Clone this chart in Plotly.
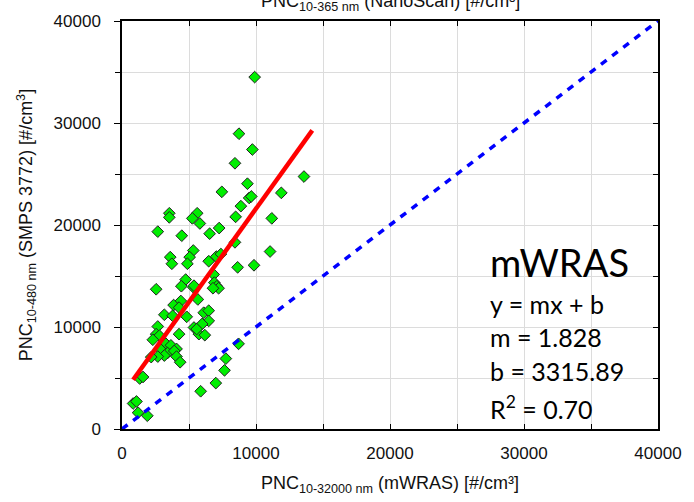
import plotly.graph_objects as go

# scatter data: PNC mWRAS (x) vs PNC SMPS (y)
mwras_x = [9900, 8730, 9730, 8430, 13580, 9360, 7450, 11890, 9490, 9650,
           8870, 8480, 11180, 8430, 11050, 8630, 9850, 3530, 3530, 5610,
           5250, 5810, 2670, 4460, 6540, 7250, 5320, 3600, 3720, 5050,
           4880, 6470, 7030, 7380, 6840, 4750, 4430, 5320, 2550, 6890,
           7080, 7210, 6790, 5660, 4390, 3850, 4260, 3160, 3780, 4830,
           6100, 6470, 6470, 5980, 5370, 5740, 6180, 5570, 2670, 2550,
           2790, 4260, 2300, 3280, 3650, 4070, 2920, 3400, 3900, 3160,
           4070, 2670, 2180, 4340, 1320, 1570, 830, 1080, 1200, 1890,
           8700, 7750, 7650, 7000, 5870, 5370]
smps_y = [34500, 28950, 27400, 26050, 24750, 24050, 23250, 23150, 22650, 22800,
          21850, 20800, 20650, 18300, 17400, 15850, 16050, 21150, 20750, 21150,
          20650, 20150, 19350, 18950, 19150, 19700, 17500, 16850, 16200, 16850,
          16200, 16450, 16900, 17150, 15150, 14650, 14000, 13900, 13700, 14350,
          14000, 13800, 13800, 12700, 12550, 12150, 11900, 11200, 11100, 11000,
          11400, 11600, 10600, 10300, 9950, 9300, 9200, 9800, 10050, 9300,
          9150, 9300, 8750, 8350, 8200, 7850, 7750, 7450, 7650, 7200,
          7100, 7100, 7050, 6550, 4950, 5100, 2500, 2700, 1600, 1300,
          8350, 6900, 5750, 4500, 3700, 14050]

# regression
slope = 1.828
intercept = 3315.89
r2 = 0.70
fit_x = [830, 14200]
fit_y = [slope * v + intercept for v in fit_x]

# 1:1 line
one_x = [0, 40000]
one_y = [0, 40000]

ticks = [0, 10000, 20000, 30000, 40000]
tick_labels = ["0", "10000", "20000", "30000", "40000"]

fig = go.Figure()
fig.add_trace(go.Scatter(x=mwras_x, y=smps_y, mode="markers",
                         marker=dict(symbol="diamond", size=9, color="#00ee00",
                                     line=dict(color="#222222", width=1)),
                         showlegend=False, cliponaxis=False))
fig.add_trace(go.Scatter(x=one_x, y=one_y, mode="lines",
                         line=dict(color="#0000ff", width=3.5, dash="7px,7px"),
                         showlegend=False))
fig.add_trace(go.Scatter(x=fit_x, y=fit_y, mode="lines",
                         line=dict(color="#ff0000", width=4.5),
                         showlegend=False))
# helper trace so the right-hand tick axis is drawn
fig.add_trace(go.Scatter(x=[None], y=[None], yaxis="y2", showlegend=False,
                         hoverinfo="skip"))

font_ax = dict(family="Liberation Sans, Arial", size=17, color="#111111")
font_title = dict(family="Liberation Sans, Arial", size=18, color="#111111")

fig.update_layout(
    width=694, height=502,
    margin=dict(l=122, r=28, t=18, b=71),
    paper_bgcolor="white", plot_bgcolor="white",
    font=font_ax,
    xaxis=dict(range=[0, 40000], tickvals=ticks, ticktext=tick_labels,
               showgrid=True, gridcolor="#dcdcdc", gridwidth=1,
               minor=dict(dtick=5000, showgrid=True, gridcolor="#dcdcdc",
                          ticks="inside", ticklen=5, tickcolor="black"),
               ticks="inside", ticklen=5, tickcolor="black",
               showline=True, linecolor="black", linewidth=1.5,
               mirror="allticks", zeroline=False, ticklabelstandoff=8,
               title=dict(text="PNC<sub>10-32000 nm</sub> (mWRAS) [#/cm³]",
                          font=font_title, standoff=14),
               tickfont=font_ax),
    yaxis=dict(range=[0, 40000], tickvals=ticks, ticktext=tick_labels,
               showgrid=True, gridcolor="#dcdcdc", gridwidth=1,
               minor=dict(dtick=5000, showgrid=True, gridcolor="#dcdcdc",
                          ticks="outside", ticklen=5, tickcolor="black"),
               ticks="outside", ticklen=6, tickcolor="black",
               showline=True, linecolor="black", linewidth=1.5,
               mirror=True, zeroline=False, ticklabelstandoff=10,
               title=dict(text="PNC<sub>10-480 nm</sub> (SMPS 3772) [#/cm<sup>3</sup>]",
                          font=font_title, standoff=16),
               tickfont=font_ax),
    yaxis2=dict(range=[0, 40000], overlaying="y", side="right",
                tickvals=ticks, showticklabels=False, showgrid=False,
                ticks="inside", ticklen=5, tickcolor="black",
                minor=dict(dtick=5000, ticks="inside", ticklen=5,
                           tickcolor="black", showgrid=False),
                zeroline=False, showline=False),
)

fig.add_annotation(text="PNC<sub>10-365 nm</sub> (NanoScan) [#/cm³]",
                   xref="paper", yref="paper", x=0.5, y=1, yanchor="bottom",
                   yshift=5, showarrow=False, font=font_title)

txt_font = "Lato, Open Sans, sans-serif"
fig.add_annotation(text="mWRAS", xref="paper", yref="paper", x=0.682, y=0.409,
                   xanchor="left", yanchor="middle", showarrow=False,
                   font=dict(family=txt_font, size=38, color="black"))
lines = ["y = mx + b", f"m = {slope:.3f}", f"b = {intercept:.2f}",
         f"R<sup>2</sup> = {r2:.2f}"]
ys = [0.3075, 0.225, 0.143, 0.053]
for t, yy in zip(lines, ys):
    fig.add_annotation(text=t, xref="paper", yref="paper", x=0.682, y=yy,
                       xanchor="left", yanchor="middle", showarrow=False,
                       font=dict(family=txt_font, size=25, color="black"))

fig.write_html("out.html")
